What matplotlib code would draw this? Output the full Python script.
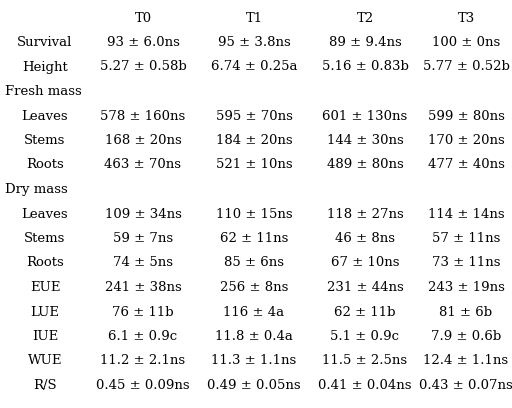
import matplotlib.pyplot as plt

columns = ['T0', 'T1', 'T2', 'T3']
row_labels = ['Survival', 'Height', 'Fresh mass', 'Leaves', 'Stems', 'Roots',
              'Dry mass', 'Leaves', 'Stems', 'Roots', 'EUE', 'LUE', 'IUE', 'WUE', 'R/S']
group_rows = ['Fresh mass', 'Dry mass']
cells = [
    ['93 ± 6.0ns', '95 ± 3.8ns', '89 ± 9.4ns', '100 ± 0ns'],
    ['5.27 ± 0.58b', '6.74 ± 0.25a', '5.16 ± 0.83b', '5.77 ± 0.52b'],
    None,
    ['578 ± 160ns', '595 ± 70ns', '601 ± 130ns', '599 ± 80ns'],
    ['168 ± 20ns', '184 ± 20ns', '144 ± 30ns', '170 ± 20ns'],
    ['463 ± 70ns', '521 ± 10ns', '489 ± 80ns', '477 ± 40ns'],
    None,
    ['109 ± 34ns', '110 ± 15ns', '118 ± 27ns', '114 ± 14ns'],
    ['59 ± 7ns', '62 ± 11ns', '46 ± 8ns', '57 ± 11ns'],
    ['74 ± 5ns', '85 ± 6ns', '67 ± 10ns', '73 ± 11ns'],
    ['241 ± 38ns', '256 ± 8ns', '231 ± 44ns', '243 ± 19ns'],
    ['76 ± 11b', '116 ± 4a', '62 ± 11b', '81 ± 6b'],
    ['6.1 ± 0.9c', '11.8 ± 0.4a', '5.1 ± 0.9c', '7.9 ± 0.6b'],
    ['11.2 ± 2.1ns', '11.3 ± 1.1ns', '11.5 ± 2.5ns', '12.4 ± 1.1ns'],
    ['0.45 ± 0.09ns', '0.49 ± 0.05ns', '0.41 ± 0.04ns', '0.43 ± 0.07ns'],
]

W, H = 512, 408
fig = plt.figure(figsize=(W / 100, H / 100), dpi=100)
fig.patch.set_facecolor('white')
font = dict(family='DejaVu Serif', fontsize=9.5, color='black')

col_x = [143, 254, 365, 466]
label_x = 45
y0, dy = 18, 24.5

def put(x, y, s, ha='center'):
    fig.text(x / W, 1 - y / H, s, ha=ha, va='center', **font)

for cx, c in zip(col_x, columns):
    put(cx, y0, c)

for i, lab in enumerate(row_labels):
    y = y0 + dy * (i + 1)
    if lab in group_rows:
        put(5, y, lab, ha='left')
        continue
    put(label_x, y, lab)
    for cx, s in zip(col_x, cells[i]):
        put(cx, y, s)

fig.savefig('out.png', dpi=100)
